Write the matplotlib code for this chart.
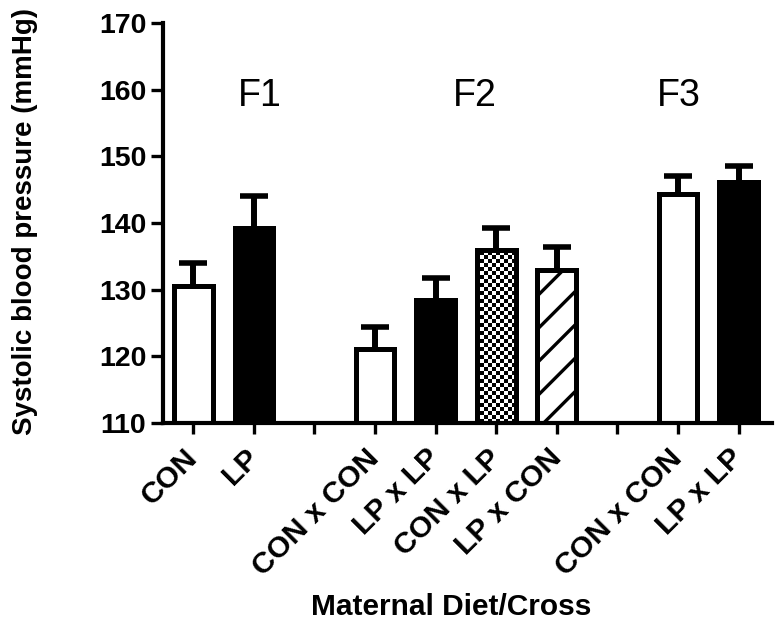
import numpy as np
import matplotlib
matplotlib.use("Agg")
import matplotlib.pyplot as plt

# ---------------- data ----------------
categories = ['CON', 'LP', '', 'CON x CON', 'LP x LP', 'CON x LP', 'LP x CON',
              '', 'CON x CON', 'LP x LP']
sbp_mean = [130.6, 139.3, np.nan, 121.1, 128.5, 135.9, 133.0, np.nan, 144.3, 146.1]
sbp_sem = [3.4, 4.8, np.nan, 3.3, 3.3, 3.4, 3.4, np.nan, 2.7, 2.5]
bar_style = ['open', 'solid', None, 'open', 'solid', 'checker', 'stripe', None,
             'open', 'solid']
generations = ['F1', 'F2', 'F3']
generation_pos = [1.1, 4.65, 8.02]
y_ticks = [110, 120, 130, 140, 150, 160, 170]

# ---------------- figure ----------------
plt.rcParams['font.family'] = ['Liberation Sans', 'DejaVu Sans']
fig = plt.figure(figsize=(7.8, 6.26), dpi=100)
ax = fig.add_axes([163/780, 1-423/626, (772-163)/780, (423-23)/626])

x = np.arange(len(categories))
mean = np.array(sbp_mean, dtype=float)
sem = np.array(sbp_sem, dtype=float)

ax.set_xlim(-0.5, 9.55)
ax.set_ylim(110, 170)

edge_lw = 3.6
bars = []
for xi, m, st in zip(x, mean, bar_style):
    if st is None or np.isnan(m):
        bars.append(None)
        continue
    face = {'open': 'white', 'solid': 'black', 'checker': 'none', 'stripe': 'white'}[st]
    hatch = '/' if st == 'stripe' else None
    with plt.rc_context({'hatch.linewidth': 2.4, 'hatch.color': 'black'}):
        b = ax.bar(xi, m, width=0.64, color=face, edgecolor='black',
                   linewidth=edge_lw, hatch=hatch, zorder=3)[0]
    bars.append(b)

# checkerboard texture for the CON x LP bar
fig.canvas.draw()
bb = ax.get_window_extent()
cell = 4.0
nx = int(bb.width / cell)
ny = int(bb.height / cell)
checker = (np.indices((ny, nx)).sum(axis=0) % 2).astype(float)
for b, st in zip(bars, bar_style):
    if st == 'checker' and b is not None:
        im = ax.imshow(checker, cmap='gray', vmin=0, vmax=1,
                       extent=[*ax.get_xlim(), *ax.get_ylim()],
                       interpolation='nearest', aspect='auto', zorder=2.5)
        im.set_clip_path(b)
ax.set_xlim(-0.5, 9.55)
ax.set_ylim(110, 170)

# error bars (upper only)
eb = ax.errorbar(x, mean, yerr=[np.zeros_like(sem), sem], fmt='none',
                 ecolor='black', elinewidth=4.3, capsize=10, capthick=4.0,
                 zorder=4)
for cl in eb[1]:
    yd = np.asarray(cl.get_ydata(), dtype=float)
    if np.allclose(yd[~np.isnan(yd)], mean[~np.isnan(mean)]):
        cl.set_visible(False)

# generation labels
for g, gx in zip(generations, generation_pos):
    ax.text(gx, 159.1, g, fontsize=27, ha='center', va='center')

# axes styling
for s in ['top', 'right']:
    ax.spines[s].set_visible(False)
ax.spines['left'].set_linewidth(3.0)
ax.spines['bottom'].set_linewidth(3.0)
ax.spines['left'].set_zorder(5)
ax.spines['bottom'].set_zorder(5)

ax.set_yticks(y_ticks)
ax.set_yticklabels([str(v) for v in y_ticks], fontsize=20.5, fontweight='bold')
ax.tick_params(axis='y', width=2.4, length=9, pad=3)
ax.set_xticks(x)
ax.set_xticklabels(categories, fontsize=21.5, fontweight='bold', rotation=45,
                   ha='right', va='center', rotation_mode='anchor')
ax.tick_params(axis='x', width=2.4, length=8, pad=14)

ax.set_ylabel('Systolic blood pressure (mmHg)', fontsize=20, fontweight='bold')
ax.yaxis.set_label_coords(-0.205, 0.503)
ax.set_xlabel('Maternal Diet/Cross', fontsize=21.5, fontweight='bold')
ax.xaxis.set_label_coords(0.473, -0.425)

fig.savefig('out.png', dpi=100)
